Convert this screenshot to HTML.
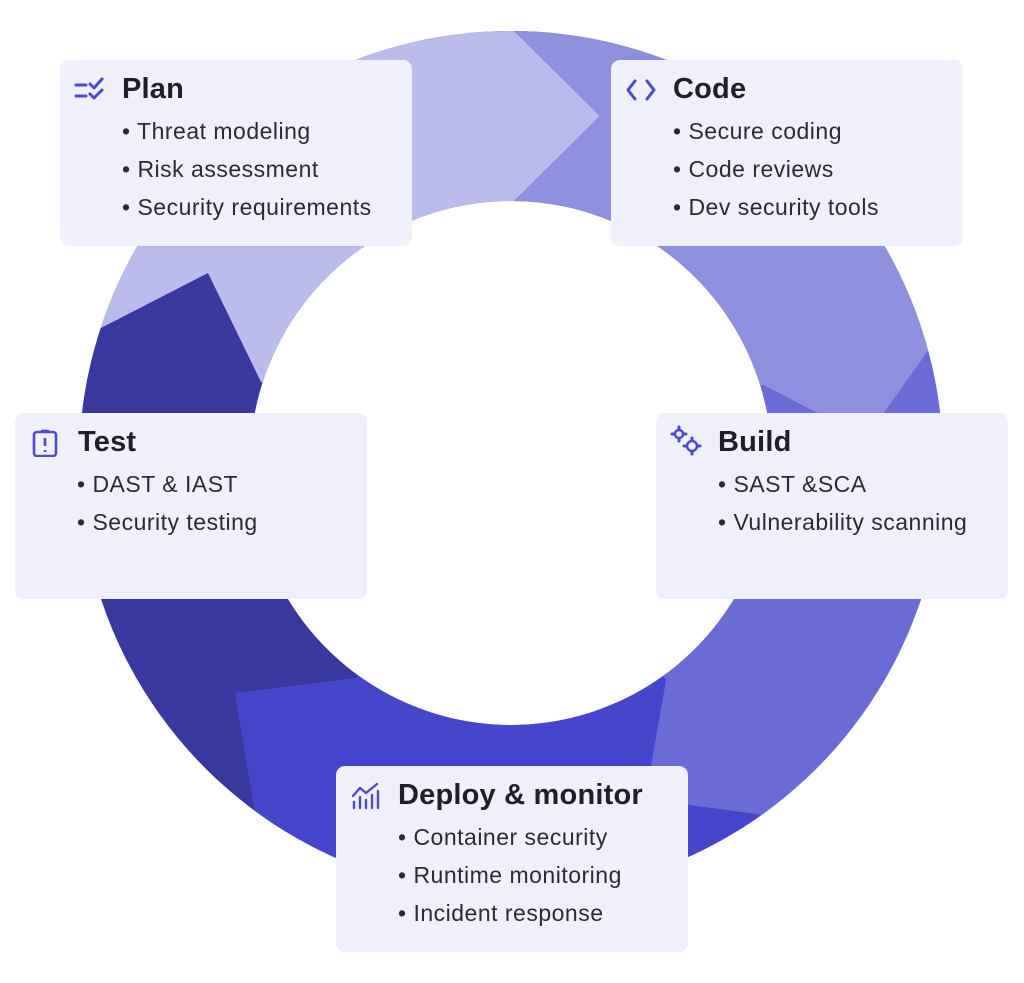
<!DOCTYPE html>
<html style="overflow:hidden;height:983px"><head><meta charset="utf-8"><style>
html,body{margin:0;padding:0;background:#fff;}
body{width:1024px;height:983px;position:relative;overflow:hidden;font-family:"Liberation Sans",sans-serif;}
.box{position:absolute;width:352px;height:186px;background:#f0f0fb;border-radius:9px;}
.t{position:absolute;left:62px;top:13px;font-size:29px;font-weight:bold;color:#1e1e2c;letter-spacing:0.2px;}
.b{position:absolute;left:62px;font-size:23px;letter-spacing:0.5px;color:#2a2a38;white-space:nowrap;}
.ic{position:absolute;left:14px;top:16px;width:32px;height:28px;}
</style></head><body>
<svg width="1024" height="983" style="position:absolute;left:0;top:0">
<defs><clipPath id="ring"><path clip-rule="evenodd" d="M511,31 a432,432 0 1,0 0.01,0 Z M511,201 a261,262 0 1,1 -0.01,0 Z"/></clipPath></defs>
<g clip-path="url(#ring)">
<rect x="0" y="0" width="1024" height="983" fill="#38389f"/>
<polygon fill="#bbbbec" points="-100,431 97,330 208,273 261,382 511,463 513,202 600,116 513,30 513,-100 -100,-100"/>
<polygon fill="#8f8fe0" points="513,-100 513,30 600,116 513,202 511,463 763,385 850,430 884,413 1100,109 1100,-100"/>
<polygon fill="#6b6bd6" points="511,463 763,385 850,430 884,413 1100,109 1100,860 763,815 689,805 651,765 666,680"/>
<polygon fill="#4646cc" points="511,463 666,680 651,765 689,805 763,815 1100,860 1100,1100 303,1100 255,813 235,693 356,678"/>
</g>
</svg>

<div class="box" style="left:60px;top:60px">
<svg class="ic" viewBox="0 0 32 28"><g stroke="#4a4acf" stroke-width="3" fill="none" stroke-linecap="round" stroke-linejoin="round"><line x1="2" y1="9" x2="12" y2="9"/><line x1="2" y1="20" x2="12" y2="20"/><polyline points="16,8 20,12 28,3"/><polyline points="16,18 20,22 28,14"/></g></svg>
<div class="t">Plan</div>
<div class="b" style="top:58px">• Threat modeling</div>
<div class="b" style="top:96px">• Risk assessment</div>
<div class="b" style="top:134px">• Security requirements</div>
</div>

<div class="box" style="left:611px;top:60px">
<svg class="ic" viewBox="0 0 32 28"><g stroke="#4a4acf" stroke-width="3" fill="none" stroke-linecap="round" stroke-linejoin="round"><polyline points="10,5 3,14 10,23"/><polyline points="22,5 29,14 22,23"/></g></svg>
<div class="t">Code</div>
<div class="b" style="top:58px">• Secure coding</div>
<div class="b" style="top:96px">• Code reviews</div>
<div class="b" style="top:134px">• Dev security tools</div>
</div>

<div class="box" style="left:15px;top:413px">
<svg class="ic" viewBox="0 0 32 28" style="left:16px"><g stroke="#4a4acf" stroke-width="2.6" fill="none" stroke-linejoin="round"><rect x="3" y="3" width="22" height="24" rx="3"/><line x1="14" y1="9" x2="14" y2="17"/><line x1="14" y1="21" x2="14" y2="23"/><line x1="10" y1="2" x2="18" y2="2"/></g></svg>
<div class="t" style="left:63px">Test</div>
<div class="b" style="top:58px">• DAST &amp; IAST</div>
<div class="b" style="top:96px">• Security testing</div>
</div>

<div class="box" style="left:656px;top:413px">
<svg class="ic" viewBox="0 0 32 32" style="top:12px;height:32px"><g stroke="#4a4acf" stroke-width="2.5" fill="none"><circle cx="9" cy="9" r="4"/><circle cx="22" cy="21" r="5"/></g><g stroke="#4a4acf" stroke-width="3" stroke-linecap="round"><line x1="9" y1="2" x2="9" y2="4"/><line x1="9" y1="14" x2="9" y2="16"/><line x1="2" y1="9" x2="4" y2="9"/><line x1="14" y1="9" x2="16" y2="9"/><line x1="22" y1="13" x2="22" y2="15"/><line x1="22" y1="27" x2="22" y2="29"/><line x1="14" y1="21" x2="16" y2="21"/><line x1="28" y1="21" x2="30" y2="21"/></g></svg>
<div class="t">Build</div>
<div class="b" style="top:58px">• SAST &amp;SCA</div>
<div class="b" style="top:96px">• Vulnerability scanning</div>
</div>

<div class="box" style="left:336px;top:766px">
<svg class="ic" viewBox="0 0 32 28"><g stroke="#4a4acf" stroke-width="2.4" fill="none" stroke-linecap="round" stroke-linejoin="round"><polyline points="3,14 10,6 16,11 27,2"/><line x1="4" y1="20" x2="4" y2="26"/><line x1="10" y1="15" x2="10" y2="26"/><line x1="16" y1="18" x2="16" y2="26"/><line x1="22" y1="13" x2="22" y2="26"/><line x1="28" y1="9" x2="28" y2="26"/></g></svg>
<div class="t">Deploy &amp; monitor</div>
<div class="b" style="top:58px">• Container security</div>
<div class="b" style="top:96px">• Runtime monitoring</div>
<div class="b" style="top:134px">• Incident response</div>
</div>
</body></html>
